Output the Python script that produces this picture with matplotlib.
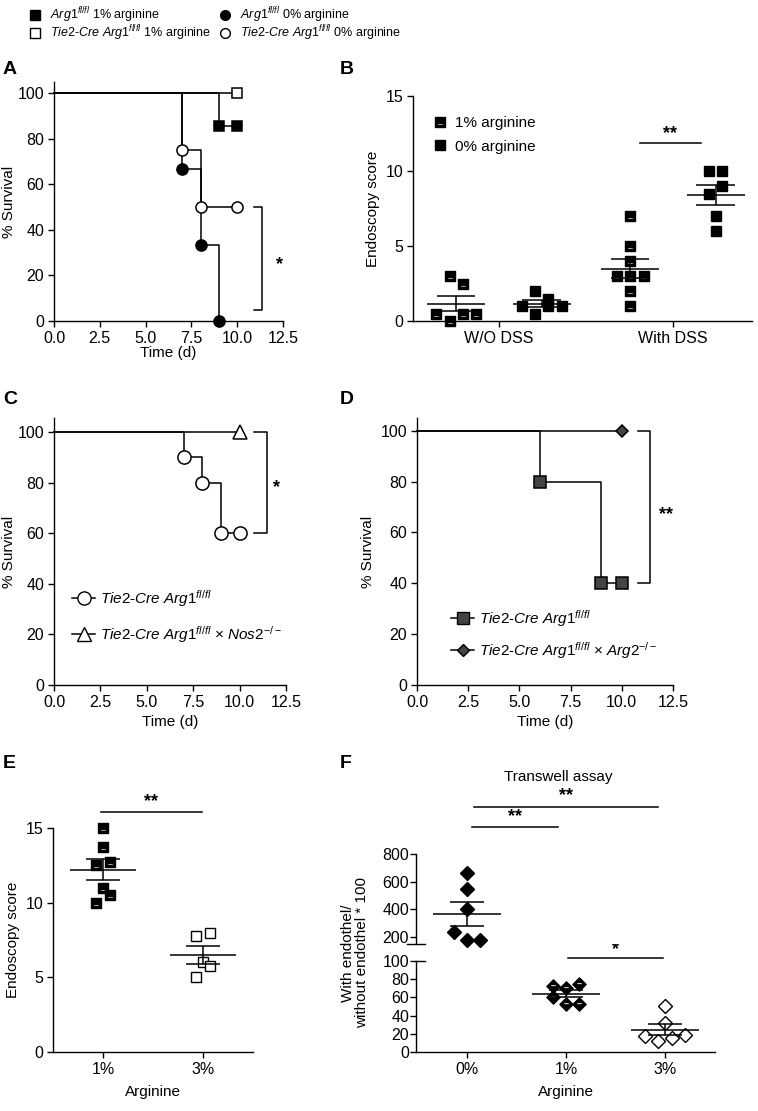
import numpy as np
import matplotlib
matplotlib.use("Agg")
import matplotlib.pyplot as plt
from matplotlib.path import Path
from matplotlib.lines import Line2D

plt.rcParams['font.family'] = ['Liberation Sans', 'DejaVu Sans']
plt.rcParams['mathtext.fontset'] = 'custom'
plt.rcParams['mathtext.rm'] = 'Liberation Sans'
plt.rcParams['mathtext.it'] = 'Liberation Sans:italic'
plt.rcParams['mathtext.default'] = 'it'
plt.rcParams['axes.linewidth'] = 1.0
plt.rcParams['xtick.major.width'] = 1.0
plt.rcParams['ytick.major.width'] = 1.0
plt.rcParams['xtick.major.size'] = 4
plt.rcParams['ytick.major.size'] = 4
plt.rcParams['xtick.labelsize'] = 11.5
plt.rcParams['ytick.labelsize'] = 11.5
plt.rcParams['axes.labelsize'] = 11

# ---------------- data ----------------
# A: Kaplan-Meier survival
a_arg1_1_t = [0, 9, 10]
a_arg1_1_s = [100, 85.7, 85.7]
a_tie2_1_t = [0, 10]
a_tie2_1_s = [100, 100]
a_arg1_0_t = [0, 7, 8, 9]
a_arg1_0_s = [100, 66.7, 33.3, 0]
a_tie2_0_t = [0, 7, 8, 10]
a_tie2_0_s = [100, 75, 50, 50]

# B: endoscopy score
b_groups = ['W/O DSS', 'With DSS']
b_wo_1 = [3, 2.5, 0.5, 0.5, 0.5, 0]
b_wo_1_dx = [-0.5, 0.5, -1.5, 0.5, 1.5, -0.5]
b_wo_0 = [2, 1.5, 1, 1, 1, 0.5]
b_wo_0_dx = [-0.5, 0.5, -1.5, 0.5, 1.5, -0.5]
b_w_1 = [7, 5, 4, 3, 3, 3, 2, 1]
b_w_1_dx = [0, 0, 0, -1, 0, 1, 0, 0]
b_w_0 = [10, 10, 9, 8.5, 7, 6]
b_w_0_dx = [-0.5, 0.5, 0.5, -0.5, 0, 0]

# C: survival
c_tie2_t = [0, 7, 8, 9, 10]
c_tie2_s = [100, 90, 80, 60, 60]
c_nos2_t = [0, 10]
c_nos2_s = [100, 100]

# D: survival
d_tie2_t = [0, 6, 9, 10]
d_tie2_s = [100, 80, 40, 40]
d_arg2_t = [0, 10]
d_arg2_s = [100, 100]

# E: endoscopy score vs arginine
e_groups = ['1%', '3%']
e_1 = [15, 13.75, 12.5, 12.75, 11, 10.5, 10]
e_1_dx = [0, 0, -1, 1, 0, 1, -1]
e_3 = [8, 7.75, 6, 5.75, 5]
e_3_dx = [1, -1, 0, 1, -1]

# F: transwell assay
f_groups = ['0%', '1%', '3%']
f_0 = [660, 550, 400, 235, 175, 175]
f_0_dx = [0, 0, 0, -1, 0, 1]
f_1 = [73, 70.5, 75, 60, 53, 53]
f_1_dx = [-1, 0, 1, -1, 0, 1]
f_3 = [50.5, 31.5, 18, 12.5, 15.5, 19]
f_3_dx = [0, 0, -1.5, -0.5, 0.5, 1.5]

# ---------------- helpers ----------------
W, H = 758, 1111
fig = plt.figure(figsize=(W / 100, H / 100), dpi=100)


def rect(l, r, b, t):
    return [l / W, 1 - b / H, (r - l) / W, (b - t) / H]


def style(ax):
    ax.spines['top'].set_visible(False)
    ax.spines['right'].set_visible(False)
    ax.tick_params(direction='out', pad=3)


# half-filled markers (white stripe inside)
M, L, C = Path.MOVETO, Path.LINETO, Path.CLOSEPOLY
half_sq = Path([(-1, -1), (1, -1), (1, 1), (-1, 1), (-1, -1),
                (-0.6, -0.65), (-0.6, -0.15), (0.6, -0.15), (0.6, -0.65), (-0.6, -0.65)],
               [M, L, L, L, C, M, L, L, L, C])
half_dm = Path([(0, -1), (1, 0), (0, 1), (-1, 0), (0, -1),
                (-0.45, -0.05), (-0.45, 0.3), (0.45, 0.3), (0.45, -0.05), (-0.45, -0.05)],
               [M, L, L, L, C, M, L, L, L, C])


def km(ax, t, s, marker, mfc, ms, mec='black'):
    ax.step(t, s, where='post', color='black', lw=1.1, clip_on=False, zorder=2)
    ax.plot(t[1:], s[1:], ls='none', marker=marker, mfc=mfc, mec=mec, ms=ms,
            mew=1.1, clip_on=False, zorder=3)


def dots(ax, x0, vals, dx, step, marker, mfc, ms, half, cap):
    xs = x0 + np.array(dx) * step
    ax.plot(xs, vals, ls='none', marker=marker, mfc=mfc, mec='black', ms=ms,
            mew=1.0, clip_on=False, zorder=3)
    m = np.mean(vals)
    se = np.std(vals, ddof=1) / np.sqrt(len(vals))
    ax.hlines(m, x0 - half, x0 + half, color='black', lw=1.1, zorder=4)
    ax.hlines([m - se, m + se], x0 - cap, x0 + cap, color='black', lw=1.1, zorder=4)
    ax.vlines(x0, m - se, m + se, color='black', lw=1.1, zorder=4)


def bracket(ax, x, x0, y1, y2, star, sx, sy):
    ax.plot([x0, x, x, x0], [y1, y1, y2, y2], color='black', lw=1.1, clip_on=False)
    ax.text(sx, sy, star, ha='center', va='center', fontsize=13, fontweight='bold')


def sigbar(ax, x1, x2, y, star, sy):
    ax.plot([x1, x2], [y, y], color='black', lw=1.1, clip_on=False)
    ax.text((x1 + x2) / 2, sy, star, ha='center', va='center', fontsize=13, fontweight='bold')


# ---------------- top legend ----------------
ov = fig.add_axes([0, 0, 1, 1])
ov.set_xlim(0, W)
ov.set_ylim(H, 0)
ov.axis('off')
top_items = [
    (35, 15, 's', 'black', r'$Arg1^{fl/fl}$ 1% arginine'),
    (35, 33, 's', 'white', r'$Tie2$-$Cre\ Arg1^{fl/fl}$ 1% arginine'),
    (225, 15, 'o', 'black', r'$Arg1^{fl/fl}$ 0% arginine'),
    (225, 33, 'o', 'white', r'$Tie2$-$Cre\ Arg1^{fl/fl}$ 0% arginine'),
]
for x, y, mk, fc, lab in top_items:
    ov.plot(x, y, marker=mk, mfc=fc, mec='black', ms=7, mew=1.0)
    ov.text(x + 15, y, lab, va='center', ha='left', fontsize=9)

# panel letters
for lx, ly, lt in [(3, 69, 'A'), (340, 69, 'B'), (3, 400, 'C'), (340, 400, 'D'),
                   (3, 764, 'E'), (340, 764, 'F')]:
    ov.text(lx, ly, lt, fontsize=14, fontweight='heavy', va='center', ha='left')

# ---------------- A ----------------
axA = fig.add_axes(rect(54, 283, 321, 82))
style(axA)
km(axA, a_tie2_1_t, a_tie2_1_s, 's', 'white', 7.5)
km(axA, a_arg1_1_t, a_arg1_1_s, 's', 'black', 7.5)
km(axA, a_tie2_0_t, a_tie2_0_s, 'o', 'white', 8)
km(axA, a_arg1_0_t, a_arg1_0_s, 'o', 'black', 8)
axA.set_xlim(0, 12.5)
axA.set_ylim(0, 105)
axA.set_xticks([0, 2.5, 5, 7.5, 10, 12.5])
axA.set_xticklabels(['0.0', '2.5', '5.0', '7.5', '10.0', '12.5'])
axA.set_yticks([0, 20, 40, 60, 80, 100])
axA.set_xlabel('Time (d)', labelpad=0)
axA.set_ylabel('% Survival', labelpad=1)
bracket(axA, 11.35, 10.9, 50, 5, '*', 12.3, 25)

# ---------------- B ----------------
axB = fig.add_axes(rect(413, 752, 321, 96))
style(axB)
bstep = 0.077
dots(axB, -0.245, b_wo_1, b_wo_1_dx, bstep, half_sq, 'black', 7.2, 0.167, 0.11)
dots(axB, 0.245, b_wo_0, b_wo_0_dx, bstep, 's', 'black', 7.2, 0.167, 0.11)
dots(axB, 0.755, b_w_1, b_w_1_dx, bstep, half_sq, 'black', 7.2, 0.167, 0.11)
dots(axB, 1.245, b_w_0, b_w_0_dx, bstep, 's', 'black', 7.2, 0.167, 0.11)
axB.set_xlim(-0.494, 1.454)
axB.set_ylim(0, 15)
axB.set_xticks([0, 1])
axB.set_xticklabels(b_groups)
axB.set_yticks([0, 5, 10, 15])
axB.set_ylabel('Endoscopy score', labelpad=4)
sigbar(axB, 0.81, 1.16, 11.87, '**', 12.5)
hb = [Line2D([], [], ls='none', marker=half_sq, mfc='black', mec='black', ms=7),
      Line2D([], [], ls='none', marker='s', mfc='black', mec='black', ms=7)]
axB.legend(hb, ['1% arginine', '0% arginine'], loc='upper left',
           bbox_to_anchor=(0.02, 0.97), frameon=False, handlelength=0.8,
           handletextpad=0.6, labelspacing=0.6, fontsize=11)

# ---------------- C ----------------
axC = fig.add_axes(rect(54, 286, 685, 418))
style(axC)
km(axC, c_nos2_t, c_nos2_s, '^', 'white', 10)
km(axC, c_tie2_t, c_tie2_s, 'o', 'white', 9.5)
axC.set_xlim(0, 12.5)
axC.set_ylim(0, 105.5)
axC.set_xticks([0, 2.5, 5, 7.5, 10, 12.5])
axC.set_xticklabels(['0.0', '2.5', '5.0', '7.5', '10.0', '12.5'])
axC.set_yticks([0, 20, 40, 60, 80, 100])
axC.set_xlabel('Time (d)', labelpad=4)
axC.set_ylabel('% Survival', labelpad=1)
bracket(axC, 11.5, 10.8, 100, 60, '*', 12.0, 78)
hc = [Line2D([], [], color='black', lw=1.1, marker='o', mfc='white', mec='black', ms=9.5),
      Line2D([], [], color='black', lw=1.1, marker='^', mfc='white', mec='black', ms=10)]
axC.legend(hc, [r'$Tie2$-$Cre\ Arg1^{fl/fl}$', r'$Tie2$-$Cre\ Arg1^{fl/fl}$ × $Nos2^{-/-}$'],
           loc='center left', bbox_to_anchor=(0.02, 0.257), frameon=False,
           handlelength=1.5, handletextpad=0.3, labelspacing=1.0, fontsize=11)

# ---------------- D ----------------
axD = fig.add_axes(rect(417, 673, 685, 418))
style(axD)
km(axD, d_arg2_t, d_arg2_s, 'D', '#444444', 6.5)
km(axD, d_tie2_t, d_tie2_s, 's', '#444444', 9)
axD.set_xlim(0, 12.5)
axD.set_ylim(0, 105)
axD.set_xticks([0, 2.5, 5, 7.5, 10, 12.5])
axD.set_xticklabels(['0.0', '2.5', '5.0', '7.5', '10.0', '12.5'])
axD.set_yticks([0, 20, 40, 60, 80, 100])
axD.set_xlabel('Time (d)', labelpad=4)
axD.set_ylabel('% Survival', labelpad=4)
bracket(axD, 11.37, 10.8, 100, 40, '**', 12.15, 67)
hd = [Line2D([], [], color='black', lw=1.1, marker='s', mfc='#444444', mec='black', ms=9),
      Line2D([], [], color='black', lw=1.1, marker='D', mfc='#444444', mec='black', ms=6.5)]
axD.legend(hd, [r'$Tie2$-$Cre\ Arg1^{fl/fl}$', r'$Tie2$-$Cre\ Arg1^{fl/fl}$ × $Arg2^{-/-}$'],
           loc='center left', bbox_to_anchor=(0.08, 0.19), frameon=False,
           handlelength=1.5, handletextpad=0.3, labelspacing=0.75, fontsize=11)

# ---------------- E ----------------
axE = fig.add_axes(rect(53, 253, 1052, 828))
style(axE)
estep = 0.067
dots(axE, 0, e_1, e_1_dx, estep, half_sq, 'black', 6.5, 0.33, 0.17)
dots(axE, 1, e_3, e_3_dx, estep, 's', 'white', 6.5, 0.33, 0.17)
axE.set_xlim(-0.5, 1.5)
axE.set_ylim(0, 15)
axE.set_xticks([0, 1])
axE.set_xticklabels(e_groups)
axE.set_yticks([0, 5, 10, 15])
axE.set_xlabel('Arginine', labelpad=6)
axE.set_ylabel('Endoscopy score', labelpad=4)
sigbar(axE, -0.02, 0.99, 16.1, '**', 16.8)

# ---------------- F ----------------
fstep = 0.135
axF = fig.add_axes(rect(416, 715, 1052, 961))
style(axF)
axFu = fig.add_axes(rect(416, 715, 944, 854))
style(axFu)
axFu.spines['bottom'].set_visible(False)
axFu.tick_params(axis='x', bottom=False, labelbottom=False)
dots(axFu, 0, f_0, f_0_dx, fstep, 'D', 'black', 7, 0.34, 0.175)
dots(axF, 1, f_1, f_1_dx, fstep, half_dm, 'black', 9.5, 0.34, 0.175)
dots(axF, 2, f_3, f_3_dx, fstep, 'D', 'white', 7, 0.34, 0.175)
for a in (axF, axFu):
    a.set_xlim(-0.515, 2.505)
axF.set_ylim(0, 100)
axFu.set_ylim(149, 800)
axF.set_yticks([0, 20, 40, 60, 80, 100])
axFu.set_yticks([200, 400, 600, 800])
axF.tick_params(axis='y', pad=1)
axFu.tick_params(axis='y', pad=1)
axF.set_xticks([0, 1, 2])
axF.set_xticklabels(f_groups)
axF.set_xlabel('Arginine', labelpad=6)
# axis break marks
axFu.plot([-0.03, 0.03], [0, 0], transform=axFu.transAxes, color='black', lw=1.0, clip_on=False)
axF.plot([0, 0.03], [1, 1], transform=axF.transAxes, color='black', lw=1.0, clip_on=False)
sigbar(axFu, 0.07, 1.93, 1140, '**', 1225)
sigbar(axFu, 0.05, 0.92, 995, '**', 1070)
sigbar(axF, 1.02, 1.98, 103, '*', 112)
ov.text(558, 777, 'Transwell assay', ha='center', va='center', fontsize=11)
ov.text(355, 953, 'With endothel/\nwithout endothel * 100', rotation=90,
        ha='center', va='center', fontsize=11, linespacing=1.0)

fig.savefig('out.png', dpi=100)
